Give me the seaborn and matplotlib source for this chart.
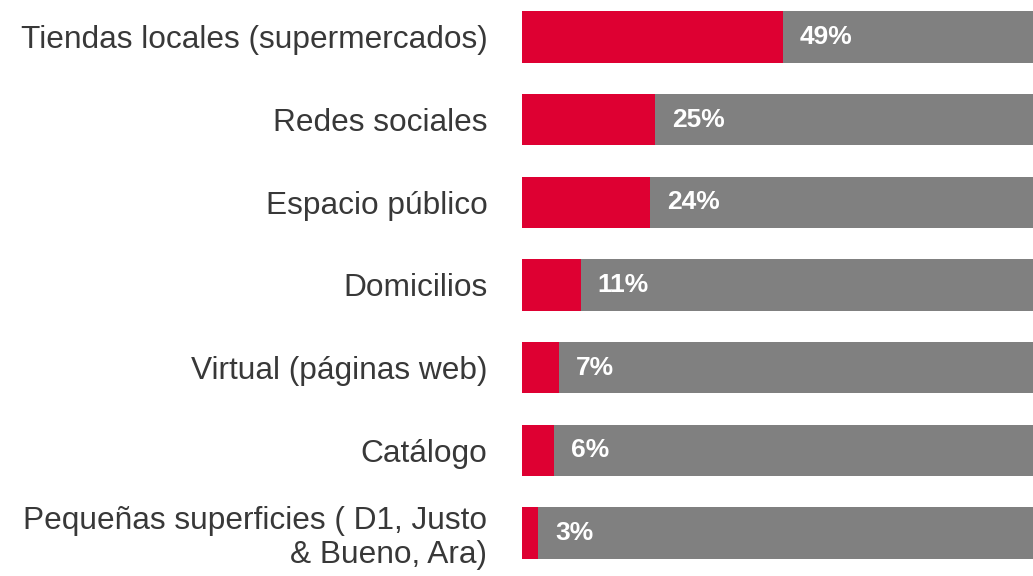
import matplotlib
matplotlib.use("Agg")
import matplotlib.pyplot as plt
import seaborn as sns
import pandas as pd

categorias = [
    "Tiendas locales (supermercados)",
    "Redes sociales",
    "Espacio público",
    "Domicilios",
    "Virtual (páginas web)",
    "Catálogo",
    "Pequeñas superficies ( D1, Justo\n& Bueno, Ara)",
]
valores = [49, 25, 24, 11, 7, 6, 3]
total = [100] * len(valores)

df = pd.DataFrame({"canal": categorias, "valor": valores, "total": total})

sns.set_theme(style="white")
plt.rcParams["font.family"] = ["Liberation Sans", "DejaVu Sans"]

rojo = "#DE0032"
gris = "#808080"

fig = plt.figure(figsize=(10.33, 5.76), dpi=100)
ax = fig.add_axes([522 / 1033, 0.003, 532 / 1033, 1.0047])

# barra gris de fondo (100%) y barra roja encima
sns.barplot(data=df, y="canal", x="total", color=gris, width=0.62,
            saturation=1, linewidth=0, ax=ax, orient="h")
sns.barplot(data=df, y="canal", x="valor", color=rojo, width=0.62,
            saturation=1, linewidth=0, ax=ax, orient="h")

for i, v in enumerate(valores):
    ax.text(v + 3.2, i, f"{v}%", color="white", fontsize=19,
            fontweight="bold", va="center", ha="left")

ax.set_xlim(0, 100)
ax.set_ylim(6.5, -0.5)
ax.set_xlabel("")
ax.set_ylabel("")
ax.set_xticks([])
ax.tick_params(axis="y", length=0, pad=25, labelsize=22.8, labelcolor="#383838")
for lbl in ax.get_yticklabels():
    lbl.set_horizontalalignment("right")
    lbl.set_linespacing(1.15)
sns.despine(ax=ax, left=True, bottom=True)

fig.savefig("out.png", dpi=100)
